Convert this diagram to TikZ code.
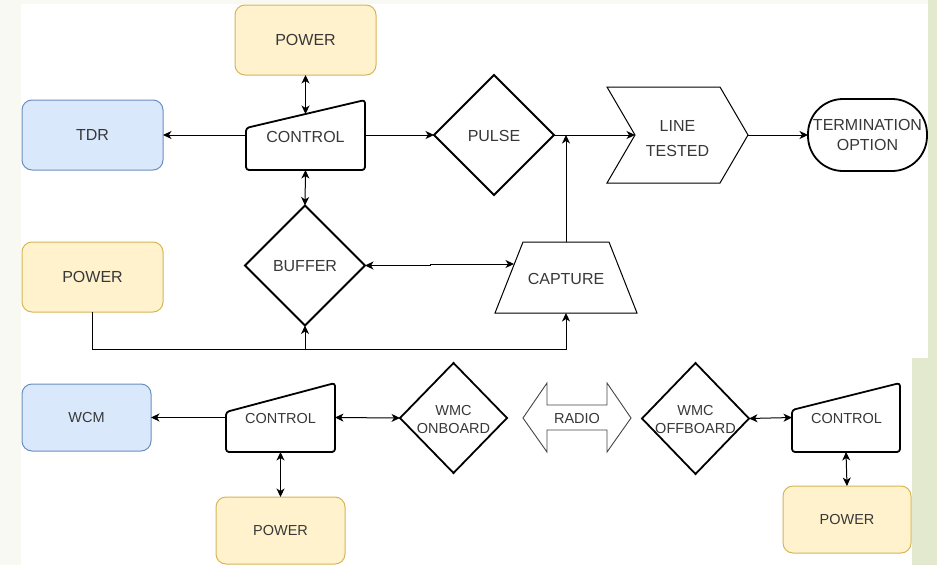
\documentclass[tikz,border=0pt]{standalone}
\usepackage{fontspec}
\setmainfont{Liberation Sans}
\usetikzlibrary{shapes.geometric,arrows.meta}
\definecolor{txt}{HTML}{383838}
\definecolor{pwrfill}{HTML}{FFF2CC}
\definecolor{pwrdraw}{HTML}{D6B656}
\definecolor{tdrfill}{HTML}{DAE8FC}
\definecolor{tdrdraw}{HTML}{6C8EBF}
\definecolor{bgpale}{HTML}{F8F9F3}
\definecolor{bggreen}{HTML}{E3E9CF}
\definecolor{radiocol}{HTML}{444444}
\begin{document}
\begin{tikzpicture}[x=1pt,y=-1pt,
  every node/.style={inner sep=0pt,outer sep=0pt},
  lblT/.style={text=txt,font=\fontsize{16}{19}\selectfont,align=center},
  lblB/.style={text=txt,font=\fontsize{14.5}{17}\selectfont,align=center},
  yellowbox/.style={rectangle,rounded corners=10pt,draw=pwrdraw,fill=pwrfill,line width=1pt},
  bluebox/.style={rectangle,rounded corners=10pt,draw=tdrdraw,fill=tdrfill,line width=1pt},
  decision/.style={diamond,draw=black,line width=1.8pt,fill=white},
  thickline/.style={draw=black,line width=1.8pt,line join=round},
  thinline/.style={draw=black,line width=1pt,line join=miter},
  tip/.tip={Stealth[length=8.5pt,width=8pt,inset=2.5pt]},
  conn/.style={draw=black,line width=1pt,-tip},
  conn2/.style={draw=black,line width=1pt,tip-tip},
]
\useasboundingbox (0,0) rectangle (937,565);
% background
\fill[bgpale] (0,0) rectangle (937,565);
\fill[bggreen] (928,0) rectangle (937,565);
\fill[bggreen] (912,358) rectangle (937,565);
\fill[white] (21,4) rectangle (928,358);
\fill[white] (21,358) rectangle (912,565);

% ---------- top section ----------
\node[yellowbox,lblT,minimum width=141,minimum height=70] (pwrT) at (305.5,40) {POWER};
\node[bluebox,lblT,minimum width=141,minimum height=70] (tdr) at (92.5,135) {TDR};
\node[lblT,minimum width=119,minimum height=70] (ctlT) at (305.5,135) {};
\node[lblT] (ctlTT) at (305.5,136.5) {CONTROL};
\draw[thickline,rounded corners=3pt] (ctlT.south west) -- ([yshift=-28pt]ctlT.north west) -- (ctlT.north east) -- (ctlT.south east) -- cycle;

\node[decision,minimum width=120,minimum height=120] (pulse) at (494,135) {};
\node[lblT] (pulseT) at (494,136) {PULSE};

\draw[thinline] (607,87) -- (720,87) -- (748,135) -- (720,183) -- (607,183) -- (635,135) -- cycle;
\node[lblT,minimum width=141,minimum height=96] (line) at (677.5,135) {};
\node[lblT] (lineT) at (677.5,138.5) {LINE\\[6pt]TESTED};

\node[draw=black,line width=1.8pt,rounded corners=35pt,minimum width=119,minimum height=72] (term) at (867.5,135) {};
\node[lblT] (termT) at (867.5,134.5) {TERMINATION\\[1pt]OPTION};

\node[decision,minimum width=120,minimum height=120] (buffer) at (305,265.5) {};
\node[lblT] (bufferT) at (305,266.5) {BUFFER};

\node[yellowbox,lblT,minimum width=141,minimum height=70] (pwrL) at (92.5,277) {POWER};

\draw[thinline] (523,242) -- (609,242) -- (637,313) -- (495,313) -- cycle;
\node[lblT,minimum width=142,minimum height=71] (capture) at (566,277.5) {};
\node[lblT] (captureT) at (566,278.5) {CAPTURE};
\coordinate (capL) at (514,264);

% top connectors
\draw[conn] (ctlT.west) -- (tdr.east);
\draw[conn2] (pwrT.south) -- ([yshift=-14pt]ctlT.north);
\draw[conn] (ctlT.east) -- (pulse.west);
\draw[conn] (pulse.east) -- ([xshift=28pt]line.west);
\draw[conn] (line.east) -- (term.west);
\draw[conn] (capture.north) -- (capture.north |- pulse.east);
\draw[conn2] (ctlT.south) -- (buffer.north);
\draw[conn2] (buffer.east) -- ++(65,0) |- (capL);
\draw[conn] (pwrL.south) -- (pwrL.south |- 0,349) -| (capture.south);
\draw[conn] (buffer.south |- 0,349) -- (buffer.south);

% ---------- bottom section ----------
\node[bluebox,lblB,minimum width=129,minimum height=67] (wcm) at (86.5,417.5) {WCM};
\node[lblB,minimum width=109,minimum height=69] (ctlL) at (280.5,417.5) {};
\node[lblB] (ctlLT) at (280.5,419) {CONTROL};
\draw[thickline,rounded corners=3pt] (ctlL.south west) -- ([yshift=-29pt]ctlL.north west) -- (ctlL.north east) -- (ctlL.south east) -- cycle;

\node[decision,minimum width=107,minimum height=110] (wmcOn) at (453.5,418) {};
\node[lblB] (wmcOnT) at (453.5,419.5) {WMC\\[1pt]ONBOARD};

\draw[draw=radiocol,line width=0.9pt,line join=miter] (523,418) -- (547,383) -- (547,405) -- (607,405) -- (607,383) -- (631,418) -- (607,452) -- (607,430) -- (547,430) -- (547,452) -- cycle;
\node[lblB,minimum width=108,minimum height=69] (radio) at (577,417.5) {};
\node[lblB] (radioT) at (577,418.5) {RADIO};

\node[decision,minimum width=107,minimum height=111] (wmcOff) at (695.5,418.5) {};
\node[lblB] (wmcOffT) at (695.5,419.5) {WMC\\[1pt]OFFBOARD};

\node[lblB,minimum width=108,minimum height=69] (ctlR) at (846,417.5) {};
\node[lblB] (ctlRT) at (846.5,418.5) {CONTROL};
\draw[thickline,rounded corners=3pt] (ctlR.south west) -- ([yshift=-27pt]ctlR.north west) -- (ctlR.north east) -- (ctlR.south east) -- cycle;

\node[yellowbox,lblB,minimum width=128,minimum height=67] (pwrR) at (847,519.5) {POWER};
\node[yellowbox,lblB,minimum width=129,minimum height=67] (pwrB) at (280.5,530.5) {POWER};

% bottom connectors
\draw[conn] (ctlL.west) -- (wcm.east);
\draw[conn2] (ctlL.east) -- (wmcOn.west);
\draw[conn2] (ctlL.south) -- (pwrB.north);
\draw[conn2] (wmcOff.east) -- (ctlR.west);
\draw[conn2] (ctlR.south) -- (pwrR.north);
\end{tikzpicture}
\end{document}
